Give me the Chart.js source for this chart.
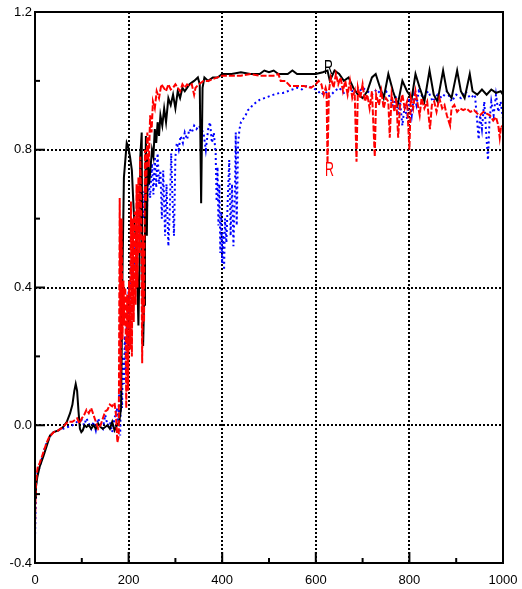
<!DOCTYPE html>
<html>
<head>
<meta charset="utf-8">
<script src="https://cdn.jsdelivr.net/npm/chart.js@4.4.1/dist/chart.umd.min.js"></script>
<style>
  html, body { margin: 0; padding: 0; background: #fff; }
  #wrap { width: 522px; height: 589px; }
</style>
</head>
<body>
<div id="wrap"><canvas id="chart" width="522" height="589"></canvas></div>
<script>
// Axes
const xMajor = [0, 200, 400, 600, 800, 1000];
const xMinor = [100, 300, 500, 700, 900];
const yMajor = [-0.4, 0.0, 0.4, 0.8, 1.2];
const yMinor = [-0.2, 0.2, 0.6, 1.0];

// Black series (solid)
const blackX = [0, 2, 5, 10, 18, 25, 32, 40, 50, 60, 68, 75, 80, 84, 87, 90, 93, 96, 99, 102,
  106, 110, 115, 120, 125, 130, 135, 140, 145, 150, 155, 160, 165, 170, 175, 180, 184, 187, 190, 193,
  196, 199, 203, 207, 210, 213, 216, 219, 221, 223, 225, 228, 229, 231, 233, 235, 237, 239, 241, 244,
  247, 250, 253, 256, 259, 262, 265, 268, 272, 276, 280, 285, 290, 295, 300, 305, 310, 315, 320, 330,
  340, 348, 352, 355, 358, 362, 370, 380, 390, 400, 420, 440, 460, 480, 490, 500, 510, 520, 540, 550,
  560, 580, 600, 615, 625, 630, 640, 650, 660, 670, 680, 690, 700, 710, 720, 728, 735, 745, 755, 765,
  775, 785, 795, 805, 813, 822, 832, 843, 852, 860, 872, 880, 890, 902, 910, 918, 929, 935, 945, 955,
  965, 975, 985, 995, 1000];
const blackY = [-0.21, -0.18, -0.15, -0.12, -0.09, -0.06, -0.03, -0.02, -0.015, -0.005, 0.01, 0.035, 0.06, 0.1, 0.12, 0.1, 0.04, -0.01, -0.02, -0.015,
  0.0, -0.005, 0.0, -0.01, 0.0, -0.01, 0.005, -0.005, -0.01, -0.005, 0.0, -0.01, 0.01, -0.015, 0.0, 0.01, 0.05, 0.45, 0.72, 0.77,
  0.82, 0.81, 0.78, 0.74, 0.65, 0.57, 0.55, 0.4, 0.29, 0.45, 0.78, 0.85, 0.5, 0.23, 0.35, 0.6, 0.84, 0.55, 0.78, 0.7,
  0.75, 0.8, 0.78, 0.86, 0.82, 0.88, 0.84, 0.9, 0.87, 0.92, 0.88, 0.95, 0.93, 0.96, 0.92, 0.97, 0.95, 0.98, 0.97, 0.99,
  1.0, 1.01, 0.99, 0.645, 0.98, 1.01, 1.0, 1.01, 1.01, 1.02, 1.02, 1.025, 1.02, 1.02, 1.03, 1.025, 1.03, 1.02, 1.02, 1.03,
  1.02, 1.02, 1.02, 1.025, 1.03, 1.0, 1.03, 1.02, 1.0, 1.01, 0.98, 0.96, 0.95, 0.97, 1.01, 1.02, 0.99, 0.95, 1.02, 0.97,
  0.93, 1.0, 0.97, 0.95, 1.02, 0.98, 0.94, 1.03, 0.96, 0.94, 1.03, 0.97, 0.95, 1.03, 0.97, 0.95, 1.02, 0.97, 0.96, 0.975,
  0.96, 0.975, 0.965, 0.97, 0.96];

// Red series (dashed)
const redX = [0, 1, 2, 4, 6, 10, 15, 20, 25, 30, 40, 50, 60, 70, 80, 90, 95, 100, 105, 110,
  115, 120, 125, 130, 135, 140, 145, 150, 155, 160, 165, 170, 173, 176, 179, 181, 183, 185, 187, 189,
  191, 193, 195, 197, 199, 201, 203, 205, 207, 209, 211, 213, 215, 217, 219, 221, 223, 225, 227, 229,
  231, 233, 235, 237, 240, 243, 246, 249, 252, 256, 260, 265, 270, 275, 280, 285, 290, 295, 300, 305,
  310, 315, 320, 325, 330, 335, 340, 343, 350, 360, 370, 380, 390, 400, 420, 440, 460, 480, 500, 510,
  520, 525, 535, 545, 560, 575, 590, 600, 606, 612, 617, 621, 623, 625, 628, 632, 638, 643, 648, 653,
  658, 663, 668, 673, 678, 683, 687, 690, 695, 700, 705, 710, 715, 720, 726, 729, 735, 740, 745, 750,
  755, 758, 762, 768, 772, 776, 780, 785, 790, 795, 800, 803, 808, 813, 818, 822, 826, 832, 838, 844,
  848, 853, 858, 864, 870, 875, 880, 887, 890, 896, 902, 908, 915, 922, 930, 938, 945, 951, 958, 965,
  972, 979, 985, 990, 993, 996, 1000];
const redY = [-0.3, -0.22, -0.17, -0.14, -0.12, -0.11, -0.09, -0.07, -0.05, -0.035, -0.02, -0.015, -0.005, 0.01, 0.01, 0.02, 0.005, 0.02, 0.03, 0.045,
  0.035, 0.05, 0.03, 0.01, -0.01, 0.0, 0.02, 0.04, 0.045, 0.06, 0.055, 0.065, 0.03, -0.05, -0.03, 0.66, 0.1, 0.6, 0.25, 0.42,
  0.29, 0.4, 0.05, 0.38, 0.1, 0.42, 0.22, 0.65, 0.2, 0.6, 0.3, 0.62, 0.35, 0.7, 0.4, 0.72, 0.5, 0.78, 0.6, 0.18,
  0.55, 0.3, 0.8, 0.65, 0.85, 0.75, 0.9, 0.85, 0.94, 0.92, 0.97, 0.95, 0.99, 0.98, 0.97, 0.99, 0.975, 0.98, 0.99, 0.98,
  0.97, 0.99, 0.98, 0.99, 0.985, 0.99, 0.96, 0.98, 0.99, 1.0, 1.0, 1.005, 1.01, 1.015, 1.015, 1.015, 1.02, 1.015, 1.015, 1.015,
  1.02, 1.0, 1.0, 0.985, 0.985, 0.985, 0.98, 0.99, 1.0, 0.99, 0.96, 0.98, 0.97, 0.76, 0.97, 1.01, 0.98, 1.02, 0.99, 1.01,
  0.97, 1.0, 0.96, 1.0, 0.95, 0.97, 0.765, 0.98, 0.95, 0.99, 0.94, 0.96, 0.92, 0.97, 0.78, 0.96, 0.93, 0.97, 0.92, 0.95,
  0.94, 0.835, 0.96, 0.91, 0.95, 0.835, 0.93, 0.96, 0.92, 0.94, 0.8, 0.95, 0.92, 0.97, 0.93, 0.9, 0.95, 0.92, 0.94, 0.86,
  0.93, 0.94, 0.91, 0.95, 0.92, 0.93, 0.9, 0.87, 0.92, 0.93, 0.91, 0.92, 0.915, 0.92, 0.91, 0.915, 0.905, 0.9, 0.91, 0.905,
  0.9, 0.885, 0.895, 0.87, 0.835, 0.87, 0.865];

// Blue series (dotted)
const blueX = [0, 1, 2, 3, 5, 8, 12, 16, 20, 25, 30, 35, 40, 50, 60, 70, 80, 90, 100, 105,
  110, 115, 120, 125, 130, 135, 140, 145, 150, 155, 160, 165, 170, 175, 178, 180, 182, 184, 186, 188,
  190, 192, 194, 196, 198, 200, 203, 206, 209, 212, 215, 218, 221, 224, 227, 230, 233, 236, 239, 242,
  246, 250, 253, 256, 259, 262, 265, 268, 271, 274, 278, 281, 285, 288, 291, 294, 297, 300, 303, 307,
  311, 316, 320, 325, 330, 335, 340, 345, 350, 355, 360, 365, 370, 374, 378, 382, 386, 388, 390, 392,
  394, 396, 398, 400, 402, 404, 406, 409, 412, 415, 418, 421, 424, 427, 429, 431, 434, 437, 440, 445,
  450, 455, 460, 465, 470, 475, 480, 490, 500, 510, 523, 530, 550, 560, 570, 580, 594, 605, 612, 620,
  630, 640, 650, 660, 670, 680, 690, 700, 710, 720, 730, 740, 750, 760, 766, 770, 776, 780, 785, 790,
  795, 800, 805, 810, 815, 820, 830, 840, 850, 860, 870, 880, 890, 900, 910, 920, 930, 940, 945, 948,
  951, 955, 960, 964, 968, 971, 975, 980, 985, 990, 995, 1000];
const blueY = [-0.33, -0.26, -0.18, -0.15, -0.14, -0.13, -0.11, -0.09, -0.07, -0.05, -0.04, -0.025, -0.02, -0.015, -0.01, -0.005, 0.0, 0.01, 0.015, 0.0,
  0.02, 0.005, -0.01, 0.01, -0.015, 0.02, 0.0, -0.01, 0.03, 0.0, 0.01, -0.02, 0.02, 0.05, 0.0, 0.1, -0.03, 0.12, 0.05, 0.2,
  0.12, 0.26, 0.16, 0.3, 0.22, 0.4, 0.32, 0.48, 0.4, 0.52, 0.45, 0.62, 0.55, 0.65, 0.57, 0.68, 0.6, 0.7, 0.62, 0.72,
  0.66, 0.76, 0.67, 0.78, 0.69, 0.79, 0.7, 0.74, 0.6, 0.74, 0.55, 0.7, 0.52, 0.62, 0.79, 0.65, 0.55, 0.78, 0.82, 0.8,
  0.84, 0.82, 0.85, 0.83, 0.86, 0.85, 0.87, 0.86, 0.87, 0.86, 0.85, 0.8, 0.86, 0.88, 0.82, 0.85, 0.79, 0.65, 0.75, 0.58,
  0.7, 0.5, 0.62, 0.47, 0.56, 0.45, 0.6, 0.53, 0.66, 0.77, 0.55, 0.7, 0.52, 0.66, 0.85, 0.58, 0.82, 0.86, 0.88, 0.89,
  0.9, 0.915, 0.92, 0.93, 0.935, 0.94, 0.945, 0.95, 0.955, 0.96, 0.965, 0.965, 0.975, 0.98, 0.975, 0.985, 0.98, 0.97, 0.96, 0.97,
  0.955, 0.97, 0.98, 0.965, 0.975, 0.97, 0.965, 0.98, 0.97, 0.96, 0.975, 0.96, 0.97, 0.95, 0.92, 0.96, 0.9, 0.94, 0.87, 0.93,
  0.89, 0.95, 0.9, 0.96, 0.93, 0.97, 0.95, 0.97, 0.94, 0.96, 0.95, 0.97, 0.94, 0.96, 0.95, 0.97, 0.95, 0.96, 0.88, 0.83,
  0.9, 0.86, 0.94, 0.85, 0.77, 0.88, 0.94, 0.9, 0.96, 0.91, 0.94, 0.89];

// "R" markers written in the plot
const markText = ['R', 'R'];
const markX = [627, 629];
const markY = [1.035, 0.74];
const markColor = ['#000000', '#ff0000'];

function toPoints(xs, ys) {
    return xs.map((x, i) => ({ x: x, y: ys[i] }));
}

// Grid, frame and inward ticks drawn by hand
const framePlugin = {
    id: 'framePlugin',
    beforeDatasetsDraw(chart) {
        const { ctx, chartArea: a, scales: { x, y } } = chart;
        ctx.save();
        ctx.strokeStyle = '#000';
        ctx.lineWidth = 2;
        ctx.setLineDash([2, 2]);
        xMajor.slice(1, -1).forEach(v => {
            const px = Math.round(x.getPixelForValue(v));
            ctx.beginPath(); ctx.moveTo(px, a.top); ctx.lineTo(px, a.bottom); ctx.stroke();
        });
        yMajor.slice(1, -1).forEach(v => {
            const py = Math.round(y.getPixelForValue(v));
            ctx.beginPath(); ctx.moveTo(a.left, py); ctx.lineTo(a.right, py); ctx.stroke();
        });
        ctx.restore();
    },
    afterDatasetsDraw(chart) {
        const { ctx, chartArea: a, scales: { x, y } } = chart;
        ctx.save();
        ctx.strokeStyle = '#000';
        ctx.setLineDash([]);
        ctx.lineWidth = 2;
        ctx.strokeRect(a.left, a.top, a.right - a.left, a.bottom - a.top);
        const tick = (vals, len) => {
            vals.forEach(v => {
                const px = x.getPixelForValue(v);
                ctx.beginPath(); ctx.moveTo(px, a.bottom); ctx.lineTo(px, a.bottom - len); ctx.stroke();
            });
        };
        const ytick = (vals, len) => {
            vals.forEach(v => {
                const py = y.getPixelForValue(v);
                ctx.beginPath(); ctx.moveTo(a.left, py); ctx.lineTo(a.left + len, py); ctx.stroke();
            });
        };
        tick(xMajor, 11); tick(xMinor, 5);
        ytick(yMajor, 10); ytick(yMinor, 5);

        // narrow, tall "R" letters
        ctx.font = '20px "Liberation Sans", sans-serif';
        ctx.textAlign = 'center';
        ctx.textBaseline = 'middle';
        markText.forEach((t, i) => {
            ctx.save();
            ctx.translate(x.getPixelForValue(markX[i]), y.getPixelForValue(markY[i]));
            ctx.scale(0.62, 1);
            ctx.fillStyle = markColor[i];
            ctx.fillText(t, 0, 0);
            ctx.restore();
        });
        ctx.restore();
    }
};

const tickFont = { family: '"Liberation Sans", Arial, sans-serif', size: 13 };

new Chart(document.getElementById('chart').getContext('2d'), {
    type: 'line',
    data: {
        datasets: [
            {
                data: toPoints(redX, redY),
                borderColor: '#ff0000',
                borderWidth: 2,
                borderDash: [6, 2],
                order: 0
            },
            {
                data: toPoints(blackX, blackY),
                borderColor: '#000000',
                borderWidth: 2,
                order: 1
            },
            {
                data: toPoints(blueX, blueY),
                borderColor: '#0000ff',
                borderWidth: 2,
                borderDash: [2, 3],
                order: 2
            }
        ]
    },
    options: {
        responsive: false,
        animation: false,
        layout: { padding: { top: 12, right: 19, left: 0, bottom: 0 } },
        elements: {
            point: { radius: 0 },
            line: { tension: 0, fill: false }
        },
        scales: {
            x: {
                type: 'linear',
                min: 0,
                max: 1000,
                grid: { display: false, drawTicks: false },
                border: { display: false },
                ticks: {
                    stepSize: 200,
                    color: '#000',
                    font: tickFont,
                    padding: 10,
                    maxRotation: 0,
                    callback: v => String(v)
                },
                afterFit: s => {
                    s.height = 26;
                    s.paddingLeft = 0;
                    s.paddingRight = 0;
                }
            },
            y: {
                type: 'linear',
                min: -0.4,
                max: 1.2,
                grid: { display: false, drawTicks: false },
                border: { display: false },
                ticks: {
                    stepSize: 0.4,
                    color: '#000',
                    font: tickFont,
                    padding: 3,
                    callback: v => Number(v).toFixed(1)
                },
                afterFit: s => {
                    s.width = 35;
                    s.paddingTop = 0;
                    s.paddingBottom = 0;
                }
            }
        },
        plugins: {
            legend: { display: false },
            tooltip: { enabled: false }
        }
    },
    plugins: [framePlugin]
});
</script>
</body>
</html>
